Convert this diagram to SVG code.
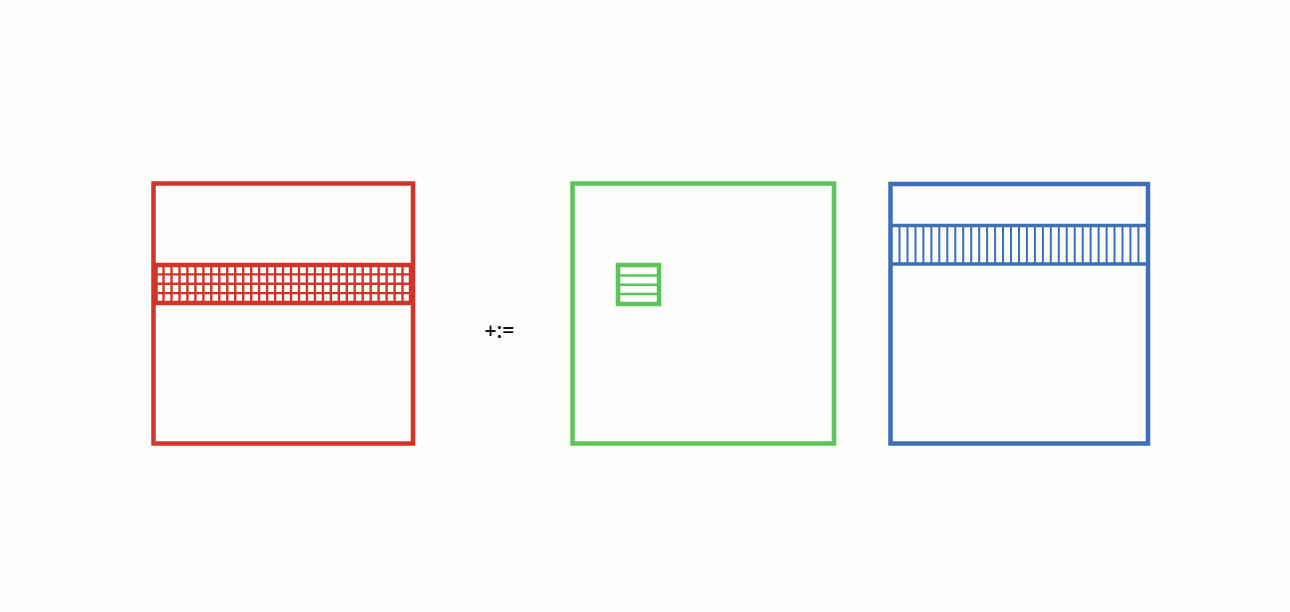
<svg xmlns="http://www.w3.org/2000/svg" width="1290" height="612" viewBox="0 0 1290 612">
<style>
.bg{fill:#fdfdfb}
.box{fill:none;stroke-width:4.5}
.red{stroke:#d3342a}
.green{stroke:#5ec35a}
.blue{stroke:#3d6fb8}
.grid{stroke-width:2.4;fill:none}
.lbl{font-family:"Open Sans","Liberation Sans",Arial,sans-serif;font-weight:600;font-size:21px;fill:#111}
</style>
<rect class="bg" x="0" y="0" width="1290" height="612"/>
<g id="red-matrix">
<rect class="box red" x="153.5" y="183.5" width="259.5" height="260"/>
<g class="grid red" id="red-grid">
<path d="M155 274.4H411M155 283.7H411M155 293.1H411"/>
<path id="red-vlines" d="M163.5 265V303M171.5 265V303M179.5 265V303M187.4 265V303M195.4 265V303M203.4 265V303M211.3 265V303M219.3 265V303M227.3 265V303M235.2 265V303M243.2 265V303M251.2 265V303M259.1 265V303M267.1 265V303M275.1 265V303M283 265V303M291 265V303M299 265V303M306.9 265V303M314.9 265V303M322.9 265V303M330.8 265V303M338.8 265V303M346.8 265V303M354.7 265V303M362.7 265V303M370.7 265V303M378.6 265V303M386.6 265V303M394.6 265V303M402.5 265V303"/>
</g>
<rect class="box red" x="155.5" y="265" width="255.5" height="38"/>
</g>
<g id="label"><text class="lbl" x="499.5" y="338" text-anchor="middle">+:=</text></g>
<g id="green-matrix">
<rect class="box green" x="572.5" y="183.5" width="261.5" height="260"/>
<g id="green-block">
<path class="grid green" d="M619 275.5H658M619 284.8H658M619 294H658"/>
<rect class="box green" x="618" y="265" width="41" height="39"/>
</g>
</g>
<g id="blue-matrix">
<rect class="box blue" x="890.5" y="184" width="257.5" height="259.5"/>
<path class="grid blue" style="stroke-width:2" d="M899.5 226V264M907.5 226V264M915.5 226V264M923.4 226V264M931.4 226V264M939.3 226V264M947.3 226V264M955.3 226V264M963.2 226V264M971.2 226V264M979.2 226V264M987.1 226V264M995.1 226V264M1003 226V264M1011 226V264M1019 226V264M1026.9 226V264M1034.9 226V264M1042.9 226V264M1050.8 226V264M1058.8 226V264M1066.7 226V264M1074.7 226V264M1082.7 226V264M1090.6 226V264M1098.6 226V264M1106.6 226V264M1114.5 226V264M1122.5 226V264M1130.4 226V264M1138.4 226V264"/>
<path class="box blue" style="stroke-width:3.5" d="M890.5 225.5H1148M890.5 264H1148"/>
</g>
</svg>
